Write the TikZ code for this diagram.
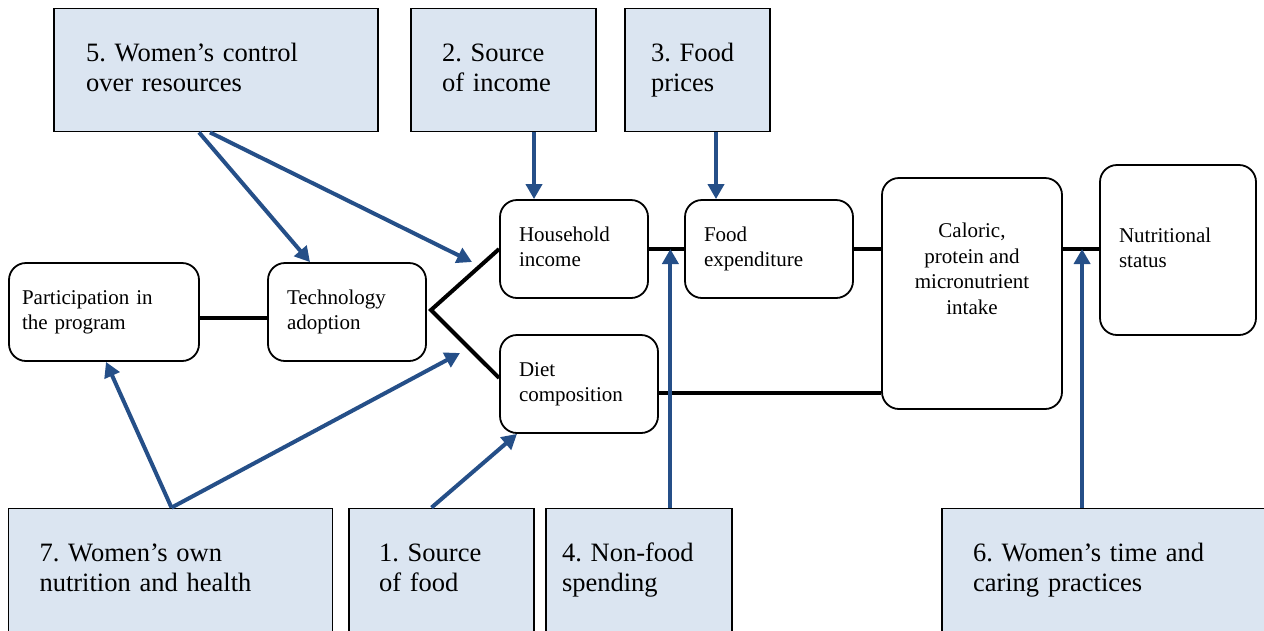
\documentclass[tikz,border=0pt]{standalone}
\usepackage{fontspec}
\setmainfont{Liberation Serif}
\usepackage{xcolor}
\usetikzlibrary{arrows.meta,positioning}
\frenchspacing

\definecolor{boxfill}{HTML}{DBE5F1}
\definecolor{arrowblue}{HTML}{254F88}

\tikzset{
  factor/.style={draw, line width=1.8pt, fill=boxfill, align=left, minimum height=123pt,
    inner ysep=3pt, font=\fontsize{26.5}{30}\selectfont,
    execute at begin node=\strut, execute at end node=\strut},
  stage/.style={draw, line width=1.8pt, fill=white, rounded corners=17pt, align=left,
    inner xsep=19pt, inner ysep=3pt, minimum height=98pt, font=\fontsize{21}{25.5}\selectfont,
    execute at begin node=\strut, execute at end node=\strut},
  link/.style={line width=4pt},
  influence/.style={draw=arrowblue, line width=4pt, -{Triangle[length=15pt,width=16pt]}}
}

\begin{document}
\begin{tikzpicture}[x=1pt, y=-1pt]
\useasboundingbox (0,0) rectangle (1264,630);
\clip (0,0) rectangle (1264,630);

% Fattori
\foreach \nm/\x/\y/\tw/\pd/\txt in {
    ctrl/216/70/260/32/{5. Women's control\\over resources},
    srcinc/503.5/70/123/31/{2. Source\\of income},
    prices/697.5/70/93/26/{3. Food\\prices},
    health/170.5/570/262/31/{7. Women's own\\nutrition and health},
    srcfood/441.5/570/125/30/{1. Source\\of food},
    nonfood/639/570/154/16/{4. Non-food\\spending},
    caring/1104/570/262/31/{6. Women's time and\\caring practices}} {
        \node[factor, text width=\tw pt, inner xsep=\pd pt] (\nm) at (\x,\y) {\txt};
    }

% Fasi
\node[stage, text width=164pt, inner xsep=13pt] (part) at (104,312) {Participation in\\the program};
\node[stage, text width=120pt] (tech) at (347,312) {Technology\\adoption};
\node[stage, text width=110pt] (hh) at (574,249) {Household\\income};
\node[stage, text width=130pt] (food) at (769,249) {Food\\expenditure};
\node[stage, text width=120pt] (diet) at (579,384) {Diet\\composition};
\node[stage, minimum width=180pt, minimum height=231pt] (cal) at (972,293.5) {};
\node[stage, draw=none, fill=none, minimum height=0pt, inner xsep=0pt, align=center, anchor=north]
    (calinfo) at ([yshift=-42pt]cal.north) {Caloric,\\protein and\\micronutrient\\intake};
\node[stage, text width=118pt, minimum height=170pt] (nut) at (1178,250) {Nutritional\\status};

% Collegamenti
\coordinate (fork) at (431,310);
\draw[link] ([yshift=-6pt]part.east) -- ([yshift=-6pt]tech.west);
\draw[link] (hh.west) -- (fork) -- ([yshift=6pt]diet.west);
\draw[link] (hh.east) -- coordinate[pos=0.61] (spend) (food.west);
\draw[link] (food.east) -- (food.east -| cal.west);
\draw[link] ([yshift=-9pt]diet.east) -- ([yshift=-9pt]diet.east -| cal.west);
\draw[link] (cal.east |- food.east) -- coordinate[pos=0.53] (care) (nut.west |- food.east);

% Frecce
\coordinate (hhin) at (472,262);
\coordinate (techin) at (460,353);
\draw[influence] ([xshift=-17pt]ctrl.south) -- ([xshift=-37pt]tech.north);
\draw[influence] ([xshift=-6pt]ctrl.south) -- (hhin);
\draw[influence] ([xshift=-40pt]hh.north |- srcinc.south) -- ([xshift=-40pt]hh.north);
\draw[influence] ([xshift=-53pt]food.north |- prices.south) -- ([xshift=-53pt]food.north);
\draw[influence] ([xshift=1pt]health.north) -- ([xshift=2pt]part.south);
\draw[influence] ([xshift=1pt]health.north) -- (techin);
\draw[influence] ([xshift=-10pt]srcfood.north) -- ([xshift=-62pt]diet.south);
\draw[influence] (spend |- nonfood.north) -- (spend);
\draw[influence] (care |- caring.north) -- (care);
\end{tikzpicture}
\end{document}
